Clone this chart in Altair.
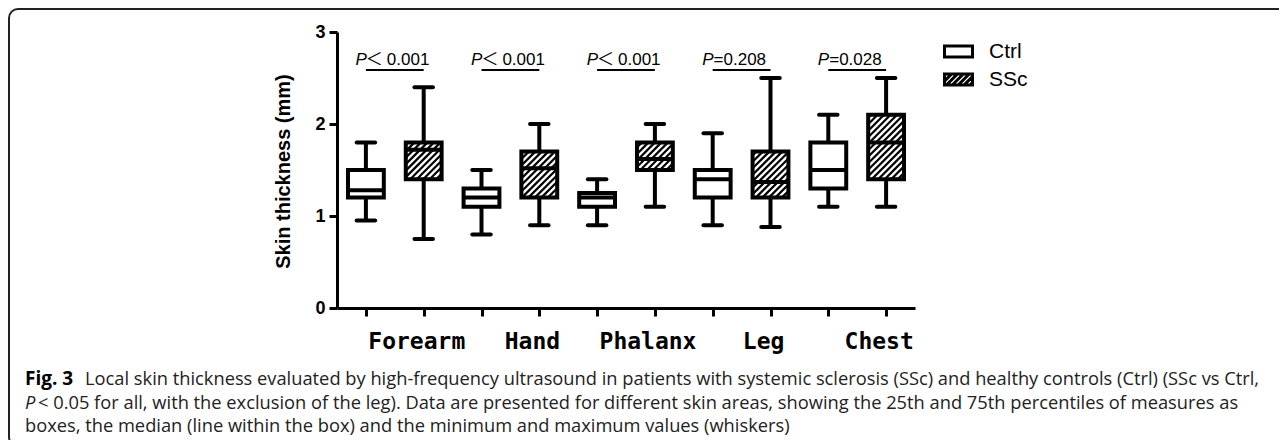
import math
import altair as alt
import pandas as pd

# ---------------- data ----------------
regions = ["Forearm", "Hand", "Phalanx", "Leg", "Chest"]
groups = ["Ctrl", "SSc"]

ctrl_min = [0.95, 0.80, 0.90, 0.90, 1.10]
ctrl_q1 = [1.20, 1.10, 1.10, 1.20, 1.30]
ctrl_med = [1.28, 1.20, 1.20, 1.40, 1.50]
ctrl_q3 = [1.50, 1.30, 1.25, 1.50, 1.80]
ctrl_max = [1.80, 1.50, 1.40, 1.90, 2.10]

ssc_min = [0.75, 0.90, 1.10, 0.88, 1.10]
ssc_q1 = [1.40, 1.20, 1.50, 1.20, 1.40]
ssc_med = [1.72, 1.52, 1.62, 1.37, 1.80]
ssc_q3 = [1.80, 1.70, 1.80, 1.70, 2.10]
ssc_max = [2.40, 2.00, 2.00, 2.50, 2.50]

p_op = ["<", "<", "<", "=", "="]
p_num = ["0.001", "0.001", "0.001", "0.208", "0.028"]

y_ticks = [0, 1, 2, 3]
y_title = "Skin thickness (mm)"

caption_1a = "Fig. 3"
caption_1b = ("Local skin thickness evaluated by high-frequency ultrasound in patients with "
              "systemic sclerosis (SSc) and healthy controls (Ctrl) (SSc vs Ctrl,")
caption_2a = "P"
caption_2b = ("< 0.05 for all, with the exclusion of the leg). Data are presented for different "
              "skin areas, showing the 25th and 75th percentiles of measures as")
caption_3 = ("boxes, the median (line within the box) and the minimum and maximum values (whiskers)")

# ---------------- layout ----------------
W, H = 578, 276           # plot area
PAD_L, PAD_T = 329, 24
TOTAL_W, TOTAL_H = 1271, 432
PX = W / 10.0             # pixels per x unit
PY = H / 3.0              # pixels per y unit
HALF = 0.31               # box half width (x units)
CAP = 0.16                # whisker cap half width

rows = []
for g, r in enumerate(regions):
    rows.append(dict(region=r, group="Ctrl", idx=2 * g, gidx=g, mn=ctrl_min[g], q1=ctrl_q1[g],
                     med=ctrl_med[g], q3=ctrl_q3[g], mx=ctrl_max[g]))
    rows.append(dict(region=r, group="SSc", idx=2 * g + 1, gidx=g, mn=ssc_min[g], q1=ssc_q1[g],
                     med=ssc_med[g], q3=ssc_q3[g], mx=ssc_max[g]))
box = pd.DataFrame(rows)

# hatch segments for SSc boxes (45 degree lines in pixel space, clipped to box)
hatch = []
step = 6.5
for _, b in box[box.group == "SSc"].iterrows():
    X0, X1 = (b.idx - HALF) * PX, (b.idx + HALF) * PX
    Y0, Y1 = b.q1 * PY, b.q3 * PY
    k = math.floor((Y0 - X1) / step) * step
    while k <= Y1 - X0:
        xs = max(X0, Y0 - k)
        xe = min(X1, Y1 - k)
        if xe > xs:
            hatch.append(dict(x=xs / PX, y=(xs + k) / PY, x2=xe / PX, y2=(xe + k) / PY))
        k += step
hatch = pd.DataFrame(hatch)

ann = pd.DataFrame(dict(region=regions, gidx=list(range(5)), op=p_op, num=p_num))

# legend symbol paths
hh = 0.393
path_ctrl = f"M-1,-{hh}H1V{hh}H-1Z"
segs = []
a = -1.7
while a < 1.0:
    xs, xe = max(-1.0, a), min(1.0, a + 2 * hh)
    if xe > xs:
        segs.append(f"M{xs:.3f},{hh - (xs - a):.3f}L{xe:.3f},{hh - (xe - a):.3f}")
    a += 0.42
path_ssc = path_ctrl + "".join(segs)

FONT = "Liberation Sans"

xscale = alt.Scale(domain=[-0.5, 9.5], nice=False, zero=False)
yscale = alt.Scale(domain=[0, 3], nice=False)

base = alt.Chart(box)

xaxis = alt.Axis(values=list(range(10)), labels=False, title=None, grid=False,
                 tickSize=8, tickWidth=3, tickColor="black", domainWidth=3, domainColor="black")
yaxis = alt.Axis(values=y_ticks, format="d", grid=False, title=y_title,
                 labelFont=FONT, labelFontWeight="bold", labelFontSize=18, labelColor="black",
                 labelPadding=4, tickSize=8, tickWidth=3, tickColor="black",
                 domainWidth=3, domainColor="black",
                 titleFont=FONT, titleFontSize=20, titleFontWeight="bold", titleColor="black",
                 titleX=-54, titleY=139, titleAngle=270, titleAlign="center", titleBaseline="middle")

whisk = base.mark_rule(color="black", strokeWidth=4).encode(
    x=alt.X("idx:Q", scale=xscale, axis=xaxis),
    y=alt.Y("mn:Q", scale=yscale, axis=yaxis),
    y2="mx:Q")

capped = base.transform_calculate(xl=f"datum.idx-{CAP}", xr=f"datum.idx+{CAP}")
caps_lo = capped.mark_rule(color="black", strokeWidth=4, strokeCap="round").encode(
    x=alt.X("xl:Q", scale=xscale), x2="xr:Q", y=alt.Y("mn:Q", scale=yscale))
caps_hi = capped.mark_rule(color="black", strokeWidth=4, strokeCap="round").encode(
    x=alt.X("xl:Q", scale=xscale), x2="xr:Q", y=alt.Y("mx:Q", scale=yscale))

boxed = base.transform_calculate(xl=f"datum.idx-{HALF}", xr=f"datum.idx+{HALF}")
box_fill = boxed.mark_rect(fill="white", strokeWidth=0).encode(
    x=alt.X("xl:Q", scale=xscale), x2="xr:Q", y=alt.Y("q1:Q", scale=yscale), y2="q3:Q")
hatch_layer = alt.Chart(hatch).mark_rule(color="black", strokeWidth=2.2).encode(
    x=alt.X("x:Q", scale=xscale), x2="x2:Q", y=alt.Y("y:Q", scale=yscale), y2="y2:Q")
box_line = boxed.mark_rect(fill="white", fillOpacity=0, stroke="black", strokeWidth=4).encode(
    x=alt.X("xl:Q", scale=xscale), x2="xr:Q", y=alt.Y("q1:Q", scale=yscale), y2="q3:Q")
median = boxed.mark_rule(color="black", strokeWidth=4).encode(
    x=alt.X("xl:Q", scale=xscale), x2="xr:Q", y=alt.Y("med:Q", scale=yscale))

annb = alt.Chart(ann).transform_calculate(a="2*datum.gidx", b="2*datum.gidx+1", c="2*datum.gidx+0.5")
PFS = 17
ANCH = -28
bracket = annb.mark_rule(color="black", strokeWidth=2).encode(
    x=alt.X("a:Q", scale=xscale), x2="b:Q", y=alt.datum(2.587))
p_it = annb.mark_text(text="P", font=FONT, fontSize=PFS, fontStyle="italic", align="right",
                      baseline="alphabetic", dx=ANCH, color="black").encode(
    x=alt.X("c:Q", scale=xscale), y=alt.datum(2.64))
p_lt = annb.transform_filter("datum.op == '<'").mark_text(
    text="\uff1c", font="Noto Sans CJK SC", fontSize=PFS, align="left", baseline="alphabetic",
    dx=ANCH - 1, color="black").encode(x=alt.X("c:Q", scale=xscale), y=alt.datum(2.64))
p_lt_num = annb.transform_filter("datum.op == '<'").mark_text(
    font=FONT, fontSize=PFS, align="left", baseline="alphabetic",
    dx=ANCH + 20, color="black").encode(x=alt.X("c:Q", scale=xscale), y=alt.datum(2.64), text="num:N")
p_eq = annb.transform_filter("datum.op == '='").transform_calculate(t="'=' + datum.num").mark_text(
    font=FONT, fontSize=PFS, align="left", baseline="alphabetic",
    dx=ANCH, color="black").encode(x=alt.X("c:Q", scale=xscale), y=alt.datum(2.64), text="t:N")
cat_lab = annb.mark_text(font="DejaVu Sans Mono", fontWeight="bold", fontSize=23, align="center",
                         baseline="alphabetic", dx=22, color="black").encode(
    x=alt.X("c:Q", scale=xscale), y=alt.value(317), text="region:N")

one = alt.Chart(pd.DataFrame({"k": [0]}))
frame = one.mark_rect(fill="white", fillOpacity=0, stroke="#222", strokeWidth=2, cornerRadius=9).encode(
    x=alt.value(-328), x2=alt.value(1100), y=alt.value(-23), y2=alt.value(414))

CF = "Open Sans"
CS = 18.3
cap1a = one.mark_text(text=caption_1a, font=CF, fontSize=CS + 0.7, fontWeight="bold", align="left",
                      baseline="alphabetic", color="black").encode(x=alt.value(-312), y=alt.value(353))
cap1b = one.mark_text(text=caption_1b, font=CF, fontSize=CS, align="left",
                      baseline="alphabetic", color="#222").encode(x=alt.value(-252), y=alt.value(353))
cap2a = one.mark_text(text=caption_2a, font=CF, fontSize=CS, fontStyle="italic", align="left",
                      baseline="alphabetic", color="#222").encode(x=alt.value(-312), y=alt.value(376.5))
cap2b = one.mark_text(text=caption_2b, font=CF, fontSize=CS, align="left",
                      baseline="alphabetic", color="#222").encode(x=alt.value(-299), y=alt.value(376.5))
cap3 = one.mark_text(text=caption_3, font=CF, fontSize=CS, align="left",
                     baseline="alphabetic", color="#222").encode(x=alt.value(-312), y=alt.value(400))

legend_pts = base.mark_point(filled=False, color="black", strokeWidth=3, clip=True).encode(
    x=alt.X("idx:Q", scale=xscale),
    y=alt.datum(-1),
    opacity=alt.value(1),
    shape=alt.Shape("group:N", scale=alt.Scale(domain=groups, range=[path_ctrl, path_ssc]),
                    legend=alt.Legend(title=None, orient="none", legendX=606, legendY=4,
                                      symbolSize=784, symbolStrokeWidth=3,
                                      symbolStrokeColor="black", symbolFillColor="white",
                                      symbolOpacity=1, labelFont=FONT, labelFontSize=21,
                                      labelColor="black", labelOffset=15, rowPadding=0,
                                      padding=0)))

chart = alt.layer(
    frame, whisk, caps_lo, caps_hi, box_fill, hatch_layer, box_line, median,
    bracket, p_it, p_lt, p_lt_num, p_eq, cat_lab, cap1a, cap1b, cap2a, cap2b, cap3, legend_pts
).properties(
    width=W, height=H,
    padding={"left": PAD_L, "top": PAD_T, "right": TOTAL_W - PAD_L - W,
             "bottom": TOTAL_H - PAD_T - H},
    autosize=alt.AutoSizeParams(type="none"),
    background="white",
).configure_view(stroke=None)

chart.save("out.html", embed_options={"renderer": "svg", "actions": False})
